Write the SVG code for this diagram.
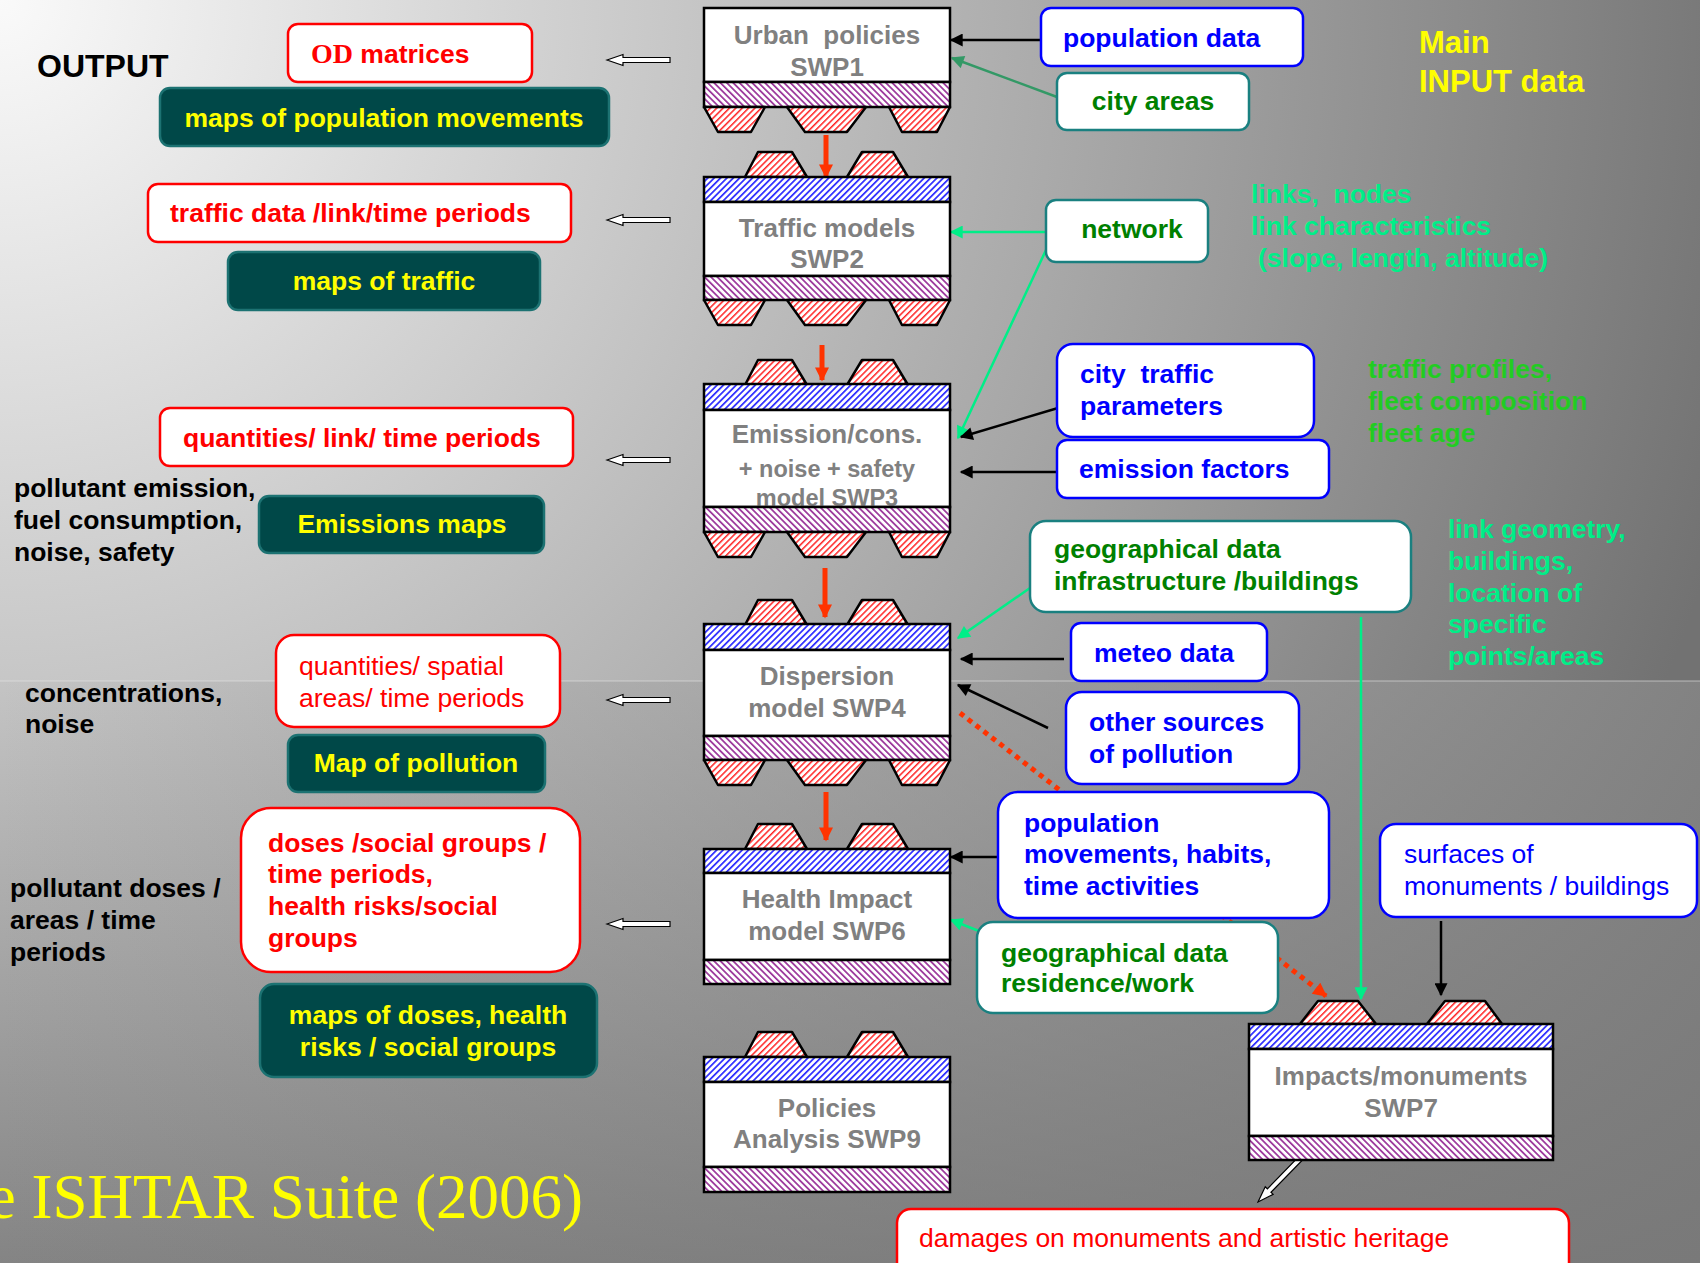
<svg xmlns="http://www.w3.org/2000/svg" width="1700" height="1263" viewBox="0 0 1700 1263">
<style>
.t{font-family:"Liberation Sans",Arial,sans-serif;font-weight:bold;font-size:26.5px}
.rg{font-family:"Liberation Sans",Arial,sans-serif;font-weight:normal;font-size:26.5px}
.mt{font-family:"Liberation Sans",Arial,sans-serif;font-weight:bold;font-size:26px;fill:#808080;text-anchor:middle}
.ms{font-size:23.5px}
.redbox{fill:#fff;stroke:#ff0000;stroke-width:2.5}
.tealbox{fill:#004848;stroke:#1c7272;stroke-width:2.5}
.bluebox{fill:#fff;stroke:#0000ff;stroke-width:2.5}
.greenbox{fill:#fff;stroke:#1a8080;stroke-width:2.5}
.red{fill:#ff0000}.yel{fill:#ffff00}.blu{fill:#0000ff}.grn{fill:#008000}.mint{fill:#00ee88}.lime{fill:#22cc22}.blk{fill:#000}
.wh{fill:#fff;stroke:#000;stroke-width:2.5}
.bb{fill:url(#hb);stroke:#000;stroke-width:2.5}
.pb{fill:url(#hp);stroke:#000;stroke-width:2.5}
.tr{fill:url(#hr);stroke:#000;stroke-width:2.5;stroke-linejoin:round}
.cb{stroke:#000;stroke-width:2.5;fill:none}
.cm{stroke:#00ee88;stroke-width:2.5;fill:none}
.cr{stroke:#ff3300;stroke-width:5;fill:none}
.ha{fill:#fff;stroke:#000;stroke-width:1.2}
</style>
<defs>
<radialGradient id="bgU" gradientUnits="userSpaceOnUse" cx="0" cy="0" r="1800">
<stop offset="0" stop-color="#fafafa"/><stop offset="1" stop-color="#727272"/>
</radialGradient>
<linearGradient id="bgL" gradientUnits="userSpaceOnUse" x1="0" y1="681" x2="0" y2="1263">
<stop offset="0" stop-color="#c4c4c4"/><stop offset="1" stop-color="#848484"/>
</linearGradient>
<linearGradient id="bgLo" gradientUnits="userSpaceOnUse" x1="0" y1="0" x2="1700" y2="0">
<stop offset="0" stop-color="#777" stop-opacity="0"/><stop offset="1" stop-color="#777" stop-opacity="0.85"/>
</linearGradient>
<pattern id="hb" patternUnits="userSpaceOnUse" width="4.5" height="4.5" patternTransform="rotate(45)">
<rect width="4.5" height="4.5" fill="#fff"/><rect width="1.7" height="4.5" fill="#2a2aff"/>
</pattern>
<pattern id="hp" patternUnits="userSpaceOnUse" width="4.5" height="4.5" patternTransform="rotate(-45)">
<rect width="4.5" height="4.5" fill="#fff"/><rect width="1.7" height="4.5" fill="#993399"/>
</pattern>
<pattern id="hr" patternUnits="userSpaceOnUse" width="4.5" height="4.5" patternTransform="rotate(45)">
<rect width="4.5" height="4.5" fill="#fff"/><rect width="1.5" height="4.5" fill="#ff2222"/>
</pattern>
<marker id="ab" markerUnits="userSpaceOnUse" viewBox="0 0 10 10" refX="9" refY="5" markerWidth="15" markerHeight="13" orient="auto"><path d="M0,0 L10,5 L0,10 z" fill="#000"/></marker>
<marker id="am" markerUnits="userSpaceOnUse" viewBox="0 0 10 10" refX="9" refY="5" markerWidth="15" markerHeight="13" orient="auto"><path d="M0,0 L10,5 L0,10 z" fill="#00ee88"/></marker>
<marker id="ag" markerUnits="userSpaceOnUse" viewBox="0 0 10 10" refX="9" refY="5" markerWidth="15" markerHeight="13" orient="auto"><path d="M0,0 L10,5 L0,10 z" fill="#339966"/></marker>
<marker id="ar" markerUnits="userSpaceOnUse" viewBox="0 0 10 10" refX="9" refY="5" markerWidth="15" markerHeight="14" orient="auto"><path d="M0,0 L10,5 L0,10 z" fill="#ff3300"/></marker>
<path id="harrow" class="ha" d="M0,0 L16,-5.5 L16,-2.5 L63,-2.5 L63,2.5 L16,2.5 L16,5.5 Z"/>
<g id="topT"><polygon class="tr" points="41,25 54,0 88,0 103,25"/><polygon class="tr" points="143,25 158,0 189,0 204,25"/></g>
<g id="botT"><polygon class="tr" points="0,0 61,0 47,25 14,25"/><polygon class="tr" points="83,0 162,0 143,25 101,25"/><polygon class="tr" points="185,0 246,0 233,25 198,25"/></g>
</defs>

<g id="background">
<rect x="0" y="0" width="1700" height="681" fill="url(#bgU)"/>
<rect x="0" y="681" width="1700" height="582" fill="url(#bgL)"/>
<rect x="0" y="681" width="1700" height="582" fill="url(#bgLo)"/>
<line x1="0" y1="681" x2="1700" y2="681" stroke="#e6e6e6" stroke-opacity="0.6" stroke-width="1"/>
</g>

<g id="connectors">
<line class="cb" x1="1041" y1="40" x2="951" y2="40" marker-end="url(#ab)"/>
<line x1="1057" y1="97" x2="952" y2="58" stroke="#339966" stroke-width="2.5" marker-end="url(#ag)"/>
<line class="cm" x1="1046" y1="232" x2="951" y2="232" marker-end="url(#am)"/>
<line class="cm" x1="1046" y1="250" x2="958" y2="438" marker-end="url(#am)"/>
<line class="cb" x1="1058" y1="408" x2="961" y2="437" marker-end="url(#ab)"/>
<line class="cb" x1="1057" y1="472" x2="961" y2="472" marker-end="url(#ab)"/>
<line class="cm" x1="1030" y1="588" x2="958" y2="638" marker-end="url(#am)"/>
<line class="cm" x1="1361" y1="617" x2="1361" y2="999" marker-end="url(#am)"/>
<line class="cb" x1="1064" y1="659" x2="961" y2="659" marker-end="url(#ab)"/>
<line class="cb" x1="1048" y1="728" x2="958" y2="685" marker-end="url(#ab)"/>
<line x1="960" y1="713" x2="1326" y2="996" stroke="#ff3300" stroke-width="5" stroke-dasharray="5 5" marker-end="url(#ar)"/>
<line class="cb" x1="997" y1="857" x2="951" y2="857" marker-end="url(#ab)"/>
<line class="cm" x1="989" y1="935" x2="951" y2="920" marker-end="url(#am)"/>
<line class="cb" x1="1441" y1="921" x2="1441" y2="995" marker-end="url(#ab)"/>
<line class="cr" x1="826" y1="135" x2="826" y2="177" marker-end="url(#ar)"/>
<line class="cr" x1="822" y1="345" x2="822" y2="380" marker-end="url(#ar)"/>
<line class="cr" x1="825" y1="568" x2="825" y2="617" marker-end="url(#ar)"/>
<line class="cr" x1="826" y1="792" x2="826" y2="840" marker-end="url(#ar)"/>
<use href="#harrow" x="607" y="60"/>
<use href="#harrow" x="607" y="220"/>
<use href="#harrow" x="607" y="460"/>
<use href="#harrow" x="607" y="700"/>
<use href="#harrow" x="607" y="924"/>
<g transform="translate(1258,1202) rotate(-45.7)"><use href="#harrow" x="0" y="0"/></g>
</g>

<g id="swp1">
<rect class="wh" x="704" y="8" width="246" height="74"/>
<rect class="pb" x="704" y="82" width="246" height="25"/>
<use href="#botT" x="704" y="107"/>
<text class="mt" x="827" y="44" xml:space="preserve">Urban  policies</text>
<text class="mt" x="827" y="76">SWP1</text>
</g>
<g id="swp2">
<use href="#topT" x="704" y="152"/>
<rect class="bb" x="704" y="177" width="246" height="25"/>
<rect class="wh" x="704" y="202" width="246" height="74"/>
<rect class="pb" x="704" y="276" width="246" height="24"/>
<use href="#botT" x="704" y="300"/>
<text class="mt" x="827" y="237">Traffic models</text>
<text class="mt" x="827" y="268">SWP2</text>
</g>
<g id="swp3">
<use href="#topT" x="704" y="360"/>
<rect class="bb" x="704" y="384" width="246" height="26"/>
<rect class="wh" x="704" y="410" width="246" height="97"/>
<text class="mt" x="827" y="443">Emission/cons.</text>
<text class="mt ms" x="827" y="477">+ noise + safety</text>
<text class="mt ms" x="827" y="506">model SWP3</text>
<rect class="pb" x="704" y="507" width="246" height="25"/>
<use href="#botT" x="704" y="532"/>
</g>
<g id="swp4">
<use href="#topT" x="704" y="600"/>
<rect class="bb" x="704" y="624" width="246" height="26"/>
<rect class="wh" x="704" y="650" width="246" height="86"/>
<rect class="pb" x="704" y="736" width="246" height="24"/>
<use href="#botT" x="704" y="760"/>
<text class="mt" x="827" y="685">Dispersion</text>
<text class="mt" x="827" y="717">model SWP4</text>
</g>
<g id="swp6">
<use href="#topT" x="704" y="824"/>
<rect class="bb" x="704" y="849" width="246" height="24"/>
<rect class="wh" x="704" y="873" width="246" height="87"/>
<rect class="pb" x="704" y="960" width="246" height="24"/>
<text class="mt" x="827" y="908">Health Impact</text>
<text class="mt" x="827" y="940">model SWP6</text>
</g>
<g id="swp9">
<use href="#topT" x="704" y="1032"/>
<rect class="bb" x="704" y="1057" width="246" height="25"/>
<rect class="wh" x="704" y="1082" width="246" height="85"/>
<rect class="pb" x="704" y="1167" width="246" height="25"/>
<text class="mt" x="827" y="1117">Policies</text>
<text class="mt" x="827" y="1148">Analysis SWP9</text>
</g>
<g id="swp7">
<polygon class="tr" points="1300,1024 1318,1001 1358,1001 1376,1024"/>
<polygon class="tr" points="1427,1024 1445,1001 1485,1001 1502,1024"/>
<rect class="bb" x="1249" y="1024" width="304" height="25"/>
<rect class="wh" x="1249" y="1049" width="304" height="87"/>
<rect class="pb" x="1249" y="1136" width="304" height="24"/>
<text class="mt" x="1401" y="1085">Impacts/monuments</text>
<text class="mt" x="1401" y="1117">SWP7</text>
</g>

<g id="output-title"><text class="t blk" x="37" y="77" style="font-size:32px">OUTPUT</text></g>
<g id="od-matrices">
<rect class="redbox" x="288" y="24" width="244" height="58" rx="10"/>
<text class="t red" x="311" y="63"><tspan style="font-family:'Liberation Serif','Times New Roman',serif;font-size:28px">OD</tspan> matrices</text>
</g>
<g id="maps-population">
<rect class="tealbox" x="160" y="88" width="449" height="58" rx="10"/>
<text class="t yel" x="384" y="127" text-anchor="middle">maps of population movements</text>
</g>
<g id="traffic-data">
<rect class="redbox" x="148" y="184" width="423" height="58" rx="10"/>
<text class="t red" x="170" y="222">traffic data /link/time periods</text>
</g>
<g id="maps-traffic">
<rect class="tealbox" x="228" y="252" width="312" height="58" rx="10"/>
<text class="t yel" x="384" y="290" text-anchor="middle">maps of traffic</text>
</g>
<g id="quantities-link">
<rect class="redbox" x="160" y="408" width="413" height="58" rx="10"/>
<text class="t red" x="183" y="447">quantities/ link/ time periods</text>
</g>
<g id="label-emission">
<text class="t blk" x="14" y="497">pollutant emission,</text>
<text class="t blk" x="14" y="529">fuel consumption,</text>
<text class="t blk" x="14" y="561">noise, safety</text>
</g>
<g id="emissions-maps">
<rect class="tealbox" x="259" y="496" width="285" height="57" rx="10"/>
<text class="t yel" x="402" y="533" text-anchor="middle">Emissions maps</text>
</g>
<g id="quantities-spatial">
<rect class="redbox" x="276" y="635" width="284" height="92" rx="18"/>
<text class="rg red" x="299" y="675">quantities/ spatial</text>
<text class="rg red" x="299" y="707">areas/ time periods</text>
</g>
<g id="label-concentrations">
<text class="t blk" x="25" y="702">concentrations,</text>
<text class="t blk" x="25" y="733">noise</text>
</g>
<g id="map-pollution">
<rect class="tealbox" x="288" y="735" width="257" height="57" rx="10"/>
<text class="t yel" x="416" y="772" text-anchor="middle">Map of pollution</text>
</g>
<g id="doses">
<rect class="redbox" x="241" y="808" width="339" height="164" rx="30"/>
<text class="t red" x="268" y="852">doses /social groups /</text>
<text class="t red" x="268" y="883">time periods,</text>
<text class="t red" x="268" y="915">health risks/social</text>
<text class="t red" x="268" y="947">groups</text>
</g>
<g id="label-doses">
<text class="t blk" x="10" y="897">pollutant doses /</text>
<text class="t blk" x="10" y="929">areas / time</text>
<text class="t blk" x="10" y="961">periods</text>
</g>
<g id="maps-doses">
<rect class="tealbox" x="260" y="984" width="337" height="93" rx="14"/>
<text class="t yel" x="428" y="1024" text-anchor="middle">maps of doses, health</text>
<text class="t yel" x="428" y="1056" text-anchor="middle">risks / social groups</text>
</g>
<g id="title"><text x="583" y="1218" text-anchor="end" style="font-family:'Liberation Serif','Times New Roman',serif;font-size:63px;fill:#ffff00">e ISHTAR Suite (2006)</text></g>

<g id="population-data">
<rect class="bluebox" x="1041" y="8" width="262" height="58" rx="10"/>
<text class="t blu" x="1063" y="47">population data</text>
</g>
<g id="city-areas">
<rect class="greenbox" x="1057" y="73" width="192" height="57" rx="10"/>
<text class="t grn" x="1153" y="110" text-anchor="middle">city areas</text>
</g>
<g id="main-input">
<text class="t yel" x="1419" y="53" style="font-size:31px">Main</text>
<text class="t yel" x="1419" y="92" style="font-size:31px">INPUT data</text>
</g>
<g id="network">
<rect class="greenbox" x="1046" y="200" width="162" height="62" rx="10"/>
<text class="t grn" x="1132" y="238" text-anchor="middle">network</text>
</g>
<g id="label-links">
<text class="t mint" x="1251" y="203" xml:space="preserve">links,  nodes</text>
<text class="t mint" x="1251" y="235">link characteristics</text>
<text class="t mint" x="1258" y="267">(slope, length, altitude)</text>
</g>
<g id="city-traffic">
<rect class="bluebox" x="1057" y="344" width="257" height="93" rx="16"/>
<text class="t blu" x="1080" y="383" xml:space="preserve">city  traffic</text>
<text class="t blu" x="1080" y="415">parameters</text>
</g>
<g id="emission-factors">
<rect class="bluebox" x="1057" y="440" width="272" height="58" rx="10"/>
<text class="t blu" x="1079" y="478">emission factors</text>
</g>
<g id="label-traffic-profiles">
<text class="t lime" x="1368" y="378">traffic profiles,</text>
<text class="t lime" x="1368" y="410">fleet composition</text>
<text class="t lime" x="1368" y="442">fleet age</text>
</g>
<g id="geo-infra">
<rect class="greenbox" x="1030" y="521" width="381" height="91" rx="16"/>
<text class="t grn" x="1054" y="558">geographical data</text>
<text class="t grn" x="1054" y="590">infrastructure /buildings</text>
</g>
<g id="label-link-geometry">
<text class="t mint" x="1448" y="538">link geometry,</text>
<text class="t mint" x="1448" y="570">buildings,</text>
<text class="t mint" x="1448" y="602">location of</text>
<text class="t mint" x="1448" y="633">specific</text>
<text class="t mint" x="1448" y="665">points/areas</text>
</g>
<g id="meteo-data">
<rect class="bluebox" x="1071" y="623" width="196" height="58" rx="10"/>
<text class="t blu" x="1094" y="662">meteo data</text>
</g>
<g id="other-sources">
<rect class="bluebox" x="1066" y="692" width="233" height="92" rx="16"/>
<text class="t blu" x="1089" y="731">other sources</text>
<text class="t blu" x="1089" y="763">of pollution</text>
</g>
<g id="population-movements">
<rect class="bluebox" x="998" y="792" width="331" height="126" rx="20"/>
<text class="t blu" x="1024" y="832">population</text>
<text class="t blu" x="1024" y="863">movements, habits,</text>
<text class="t blu" x="1024" y="895">time activities</text>
</g>
<g id="geo-residence">
<rect class="greenbox" x="977" y="922" width="301" height="91" rx="16"/>
<text class="t grn" x="1001" y="962">geographical data</text>
<text class="t grn" x="1001" y="992">residence/work</text>
</g>
<g id="surfaces">
<rect class="bluebox" x="1380" y="824" width="317" height="93" rx="16"/>
<text class="rg blu" x="1404" y="863">surfaces of</text>
<text class="rg blu" x="1404" y="895">monuments / buildings</text>
</g>
<g id="damages">
<rect class="redbox" x="897" y="1209" width="672" height="80" rx="14"/>
<text class="rg red" x="919" y="1247">damages on monuments and artistic heritage</text>
</g>
</svg>
